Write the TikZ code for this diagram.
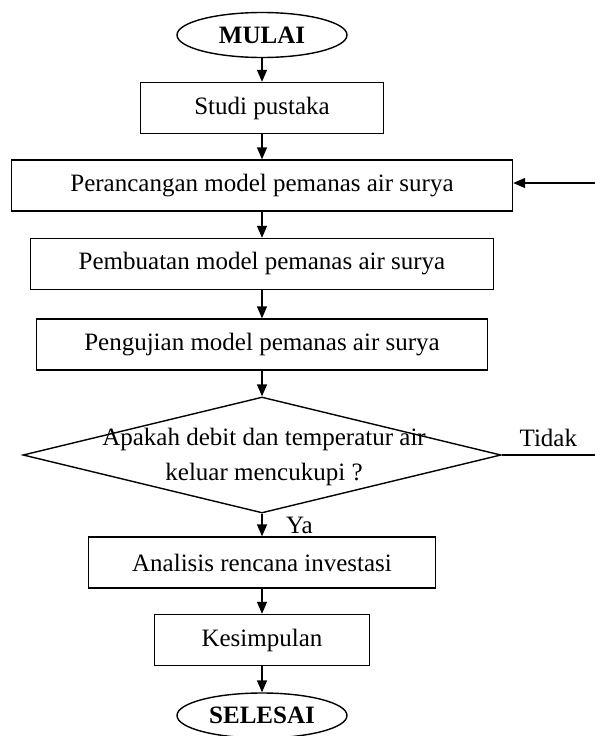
\documentclass[tikz,border=0pt]{standalone}
\usepackage{fontspec}
\setmainfont{Liberation Serif}
\usetikzlibrary{shapes.geometric,arrows.meta}

\begin{document}
\begin{tikzpicture}[x=1pt, y=-1pt, line width=1.4pt,
    >={Triangle[length=12pt,width=10pt]},
    txt/.style={font=\fontsize{25}{35}\selectfont},
    box/.style={txt, draw, rectangle, minimum height=51pt, inner sep=0pt},
    term/.style={txt, draw, ellipse, minimum width=170pt, minimum height=45pt,
      inner sep=0pt, font=\fontsize{25}{30}\selectfont\bfseries},
    decision/.style={draw, diamond, minimum width=478pt, minimum height=116pt, inner sep=0pt}]
  \useasboundingbox (0,0) rectangle (595,736);
  \node[term] (mulai) at (262,35) {MULAI};
  \node[box, minimum width=243pt] (studi) at (262,108) {Studi pustaka};
  \node[box, minimum width=501pt] (rancang) at (262,185.5) {Perancangan model pemanas air surya};
  \node[box, minimum width=463pt] (buat) at (262,264) {Pembuatan model pemanas air surya};
  \node[box, minimum width=451pt] (uji) at (262,344.5) {Pengujian model pemanas air surya};
  \node[decision] (cek) at (262,455) {};
  \node[txt, align=center] (cektext) at (264,457) {Apakah debit dan temperatur air\\keluar mencukupi ?};
  \node[box, minimum width=347pt] (analisis) at (262,562.5) {Analisis rencana investasi};
  \node[box, minimum width=215pt] (simpul) at (262,640) {Kesimpulan};
  \node[term] (selesai) at (262,715.5) {SELESAI};
  \coordinate (kanan) at (595,455);
  \coordinate (kembali) at (595,183);

  \draw[->] (mulai) -- (studi);
  \draw[->] (studi) -- (rancang);
  \draw[->] (rancang) -- (buat);
  \draw[->] (buat) -- (uji);
  \draw[->] (uji) -- (cek);
  \draw[->] (cek) -- node[txt, right=20pt, pos=0.5] (ya) {Ya} (analisis);
  \draw[->] (analisis) -- (simpul);
  \draw[->] (simpul) -- (selesai);
  \draw (cek.east) -- node[txt, above=4pt] (tidak) {Tidak} (kanan);
  \draw[->] (kembali) -- (rancang.east |- kembali);
\end{tikzpicture}
\end{document}
